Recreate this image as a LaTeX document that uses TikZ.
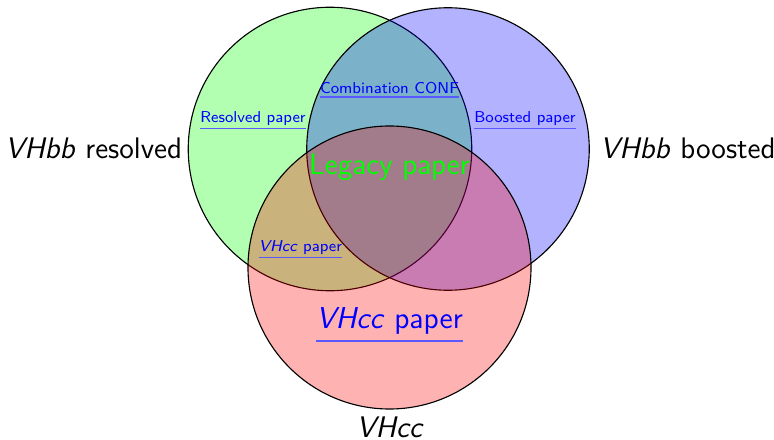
\documentclass[tikz,border=0pt]{standalone}
\usepackage{tikz}
\begin{document}
\begin{tikzpicture}[x=0.4pt,y=-0.4pt,
  setcircle/.style={draw=black,line width=0.45pt,fill opacity=0.3},
  biglabel/.style={font=\sffamily\fontsize{11.9}{14}\selectfont,inner sep=0pt,outer sep=0pt},
  smalllink/.style={font=\sffamily\fontsize{6.3}{8}\selectfont,text=blue,inner sep=0pt,outer sep=0pt},
  biglink/.style={font=\sffamily\fontsize{12.1}{14}\selectfont,text=blue,inner sep=0pt,outer sep=0pt},
  uline/.style={draw=blue!65,line width=0.55pt},
  bigline/.style={draw=blue!65,line width=0.75pt}]
\useasboundingbox (0,0) rectangle (774,440);
% circles
\path[setcircle,fill=green] (330,149) circle [radius=56.7pt];
\path[setcircle,fill=blue] (448,149) circle [radius=56.5pt];
\path[setcircle,fill=red] (389.5,267.5) circle [radius=56.6pt];
% set labels
\node[biglabel,anchor=base east] (res) at (182,158) {\textit{VHbb} resolved};
\node[biglabel,anchor=base west] (boo) at (600,158) {\textit{VHbb} boosted};
\node[biglabel,anchor=base] (vhcc) at (390,437) {\textit{VHcc}};
% papers
\node[biglabel,anchor=base,text={rgb,255:red,0;green,255;blue,0}] (leg) at (389.5,174) {Legacy paper};
\node[smalllink,anchor=base] (comb) at (389.5,94) {Combination CONF};
\node[smalllink,anchor=base] (resp) at (253,122) {Resolved paper};
\node[smalllink,anchor=base] (boop) at (525,122) {Boosted paper};
\node[smalllink,anchor=base] (ccs) at (300.5,251) {\textit{VHcc} paper};
\node[biglink,anchor=base] (ccb) at (389.5,328) {\textit{VHcc} paper};
% underlines
\draw[uline] ([yshift=-1.1pt]comb.south west) -- ([yshift=-1.1pt]comb.south east);
\draw[uline] ([yshift=-1.3pt]resp.south west) -- ([yshift=-1.3pt]resp.south east);
\draw[uline] ([yshift=-1.3pt]boop.south west) -- ([yshift=-1.3pt]boop.south east);
\draw[uline] ([yshift=-1.3pt]ccs.south west) -- ([yshift=-1.3pt]ccs.south east);
\draw[bigline] ([yshift=-3pt]ccb.south west) -- ([yshift=-3pt]ccb.south east);
\end{tikzpicture}
\end{document}
